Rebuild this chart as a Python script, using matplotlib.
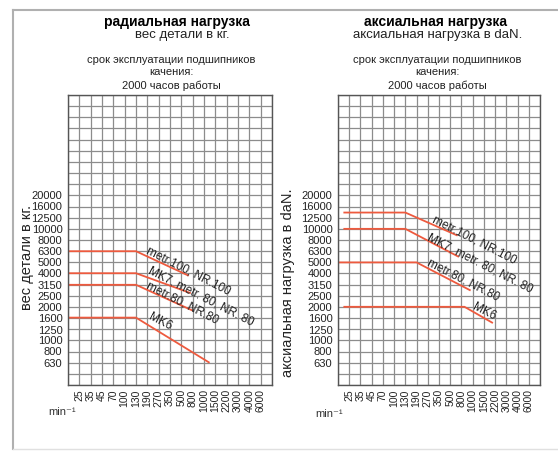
import numpy as np
import matplotlib
matplotlib.use('Agg')
import matplotlib.pyplot as plt
from matplotlib.lines import Line2D
from matplotlib.ticker import NullFormatter

plt.rcParams['font.family'] = ['Liberation Sans', 'DejaVu Sans']

# оси (частота вращения и нагрузка)
rpm_labels = [25, 35, 45, 70, 100, 130, 190, 270, 350, 500, 800, 1000, 1500, 2200, 3000, 4000, 6000]
load_labels = [20000, 16000, 12500, 10000, 8000, 6300, 5000, 4000, 3150, 2500, 2000, 1600, 1250, 1000, 800, 630]

curve_names = ['metr.100, NR.100', 'MK7, metr. 80, NR. 80', 'metr.80, NR.80', 'MK6']

# радиальная нагрузка
radial_rpm = [[18, 130, 680], [18, 130, 740], [18, 130, 800], [18, 130, 1220]]
radial_load = [[6300, 6300, 3800], [4000, 4000, 2650], [3150, 3150, 1850], [1600, 1600, 630]]

# аксиальная нагрузка
axial_rpm = [[21, 130, 680], [21, 130, 720], [18, 190, 960], [21, 850, 2040]]
axial_load = [[14000, 14000, 8700], [10000, 10000, 5600], [5000, 5000, 2800], [2000, 2000, 1430]]

RED = '#ee5a3e'
GRID = '#8c8c8c'
TXT = '#222222'


def rpm_pos(v):
    # шкала по оси x неравномерная: позиция = номер деления
    lv = np.log(np.atleast_1d(v).astype(float))
    lt = np.log(rpm_labels)
    pos = np.arange(1, len(rpm_labels) + 1, dtype=float)
    out = np.interp(lv, lt, pos)
    lo = lv < lt[0]
    out[lo] = 1 + (lv[lo] - lt[0]) / (lt[1] - lt[0])
    return out


def setup_axes(ax):
    ax.xaxis.remove_overlapping_locs = False
    ax.yaxis.remove_overlapping_locs = False
    ax.set_xlim(0, len(rpm_labels) + 1)
    ax.set_yscale('log')
    ax.set_ylim(10 ** 2.6, 10 ** 5.2)
    ax.set_xticks(np.arange(1, len(rpm_labels) + 1))
    ax.set_xticklabels([str(r) for r in rpm_labels], rotation=90, fontsize=7.5, color=TXT)
    ax.set_xticks(np.arange(0, len(rpm_labels) + 2), minor=True)
    ax.set_yticks(load_labels)
    ax.set_yticklabels([str(l) for l in load_labels], fontsize=8, color=TXT)
    ax.set_yticks(10 ** (np.arange(26, 53) / 10.0), minor=True)
    ax.yaxis.set_minor_formatter(NullFormatter())
    ax.tick_params(which='both', length=0)
    ax.tick_params(axis='x', pad=3)
    ax.tick_params(axis='y', pad=4)
    # сетка только по мелким делениям, чтобы линии не двоились
    ax.grid(which='minor', color=GRID, linewidth=0.9)
    ax.grid(which='major', visible=False)
    ax.set_axisbelow(True)
    for s in ax.spines.values():
        s.set_color('#555555')
        s.set_linewidth(1.0)


def draw_curves(ax, rpms, loads, label_pos):
    for name, r, l, (lr, ll) in zip(curve_names, rpms, loads, label_pos):
        ax.plot(rpm_pos(r), l, color=RED, linewidth=1.3, solid_capstyle='butt')
        ax.text(rpm_pos(lr)[0], ll, name, rotation=-27, rotation_mode='anchor',
                ha='left', va='center', fontsize=8.5, color=TXT)


fig = plt.figure(figsize=(5.58, 4.51), dpi=100)

ax1 = fig.add_axes([68 / 558, 1 - 385 / 451, 204 / 558, 290 / 451])
ax2 = fig.add_axes([338 / 558, 1 - 385 / 451, 202 / 558, 290 / 451])
setup_axes(ax1)
setup_axes(ax2)

draw_curves(ax1, radial_rpm, radial_load,
            [(190, 6500), (200, 4270), (190, 3140), (200, 1655)])
draw_curves(ax2, axial_rpm, axial_load,
            [(305, 12300), (270, 8500), (270, 5000), (1040, 2000)])

# заголовки
fig.text(177 / 558, 1 - 22 / 451, 'радиальная нагрузка', ha='center', va='center',
         fontsize=10, fontweight='bold')
fig.text(182 / 558, 1 - 35 / 451, 'вес детали в кг.', ha='center', va='center', fontsize=9.5,
         color=TXT)
for t, y in [('срок эксплуатации подшипников', 60), ('качения:', 72), ('2000 часов работы', 86)]:
    fig.text(171 / 558, 1 - y / 451, t, ha='center', va='center', fontsize=8, color=TXT)
    fig.text(437 / 558, 1 - y / 451, t, ha='center', va='center', fontsize=8, color=TXT)

fig.text(435 / 558, 1 - 22 / 451, 'аксиальная нагрузка', ha='center', va='center',
         fontsize=10, fontweight='bold')
fig.text(438 / 558, 1 - 35 / 451, 'аксиальная нагрузка в daN.', ha='center', va='center',
         fontsize=9.5, color=TXT)

fig.text(27 / 558, 1 - 257 / 451, 'вес детали в кг.', rotation=90, ha='center', va='center',
         fontsize=10.5, color=TXT)
fig.text(288 / 558, 1 - 283 / 451, 'аксиальная нагрузка в daN.', rotation=90, ha='center',
         va='center', fontsize=10.5, color=TXT)

fig.text(48 / 558, 1 - 412 / 451, 'min\u207b\u00b9', ha='left', va='center', fontsize=8,
         color='#333333')
fig.text(315 / 558, 1 - 414 / 451, 'min\u207b\u00b9', ha='left', va='center', fontsize=8,
         color='#333333')

# рамка
fig.add_artist(Line2D([13 / 558, 1], [1 - 10 / 451, 1 - 10 / 451], color='#b0b0b0', linewidth=1.5))
fig.add_artist(Line2D([13 / 558, 13 / 558], [1 - 10 / 451, 1 - 449 / 451], color='#b0b0b0',
                      linewidth=1.5))
fig.add_artist(Line2D([13 / 558, 1], [1 - 449 / 451, 1 - 449 / 451], color='#e0e0e0', linewidth=1.0))

fig.savefig('out.png', dpi=100)
plt.close()
